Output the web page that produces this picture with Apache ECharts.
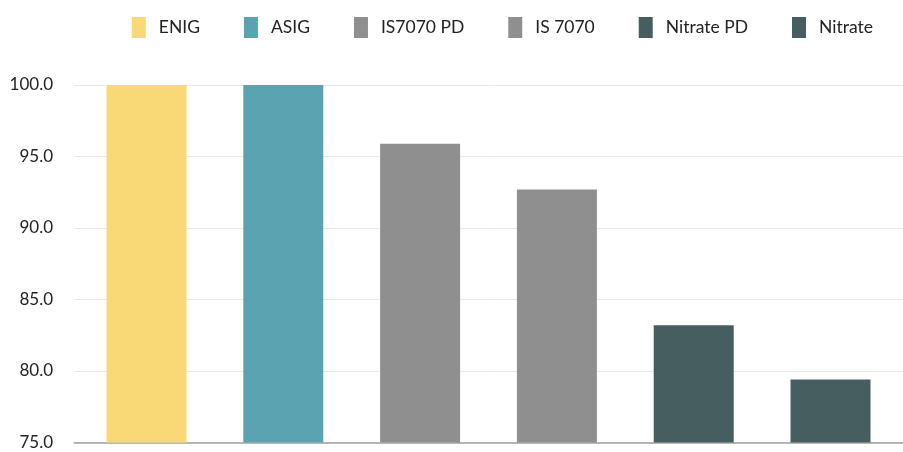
<!DOCTYPE html>
<html>
<head>
<meta charset="utf-8">
<style>
  html, body { margin: 0; padding: 0; background: #fff; }
  #chart { width: 903px; height: 452px; }
</style>
<script src="https://cdn.jsdelivr.net/npm/echarts@6/dist/echarts.min.js"></script>
</head>
<body>
<div id="chart"></div>
<script>
// series names and values (percent)
const seriesNames = ['ENIG', 'ASIG', 'IS7070 PD', 'IS 7070', 'Nitrate PD', 'Nitrate']
const seriesValues = [100, 100, 95.9, 92.7, 83.2, 79.4]
const seriesColors = ['#f9d976', '#5ba3b1', '#8f8f8f', '#8f8f8f', '#465e60', '#465e60']
const categories = ['']

const chart = echarts.init(document.getElementById('chart'))

chart.setOption({
  animation: false,
  textStyle: { fontFamily: 'Lato' },
  legend: {
    top: 12,
    right: 25,
    itemWidth: 14,
    itemHeight: 21,
    itemGap: 44,
    icon: 'rect',
    textStyle: { fontSize: 17.5, color: '#222', padding: [0, 0, 0, 8] },
    data: seriesNames
  },
  grid: {
    left: 74,
    right: 0,
    top: 85,
    bottom: 9.5
  },
  xAxis: {
    type: 'category',
    data: categories,
    axisTick: { show: false },
    axisLabel: { show: false },
    axisLine: { lineStyle: { color: '#a0a0a0', width: 1.5 } }
  },
  yAxis: {
    type: 'value',
    min: 75,
    max: 100,
    interval: 5,
    axisLine: { show: false },
    axisTick: { show: false },
    axisLabel: {
      fontSize: 17,
      color: '#222',
      margin: 21,
      formatter: v => v.toFixed(1)
    },
    splitLine: { lineStyle: { color: '#e8e8e8' } }
  },
  series: seriesNames.map((name, i) => ({
    name: name,
    type: 'bar',
    barWidth: 80,
    barGap: '71%',
    itemStyle: { color: seriesColors[i] },
    data: [seriesValues[i]]
  }))
})
</script>
</body>
</html>
